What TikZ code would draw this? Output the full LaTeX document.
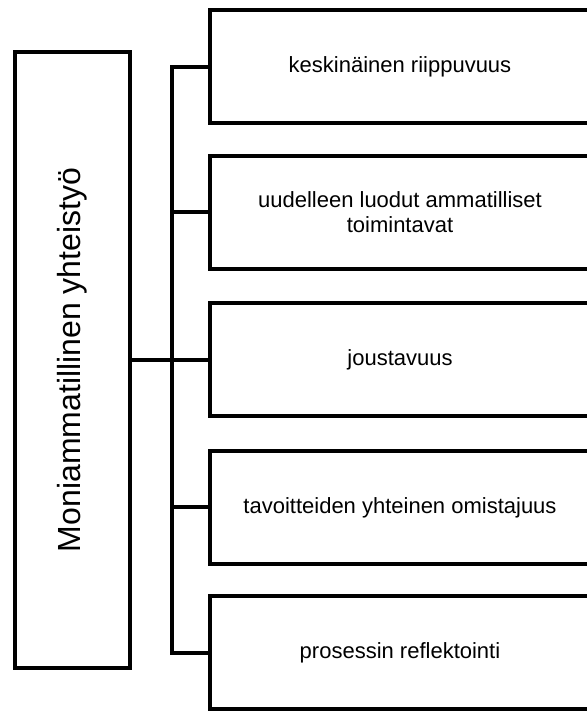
\documentclass[tikz,border=0pt]{standalone}
\usepackage{fontspec}
\setmainfont{Liberation Sans}
\begin{document}
\begin{tikzpicture}[line join=miter,
  box/.style={draw,line width=4bp,inner sep=0pt,outer sep=0pt,minimum width=380bp,minimum height=113bp,align=center,font=\fontsize{22bp}{25bp}\selectfont},
  link/.style={line width=4bp},]
%%
\clip (0bp,0bp) rectangle (587bp,713bp);
\node (node_0) at (72.5bp,353.0bp) [draw,line width=4bp,inner sep=0pt,outer sep=0pt,minimum width=115bp,minimum height=616bp,font=\fontsize{32bp}{38bp}\selectfont] {\rotatebox{90}{Moniammatillinen yhteistyö}};
  \node (node_1) at (400.0bp,646.0bp) [box] {keskinäinen riippuvuus};
  \node (node_2) at (400.0bp,500.5bp) [box] {uudelleen luodut ammatilliset\\toimintavat};
  \node (node_3) at (400.0bp,353.0bp) [box] {joustavuus};
  \node (node_4) at (400.0bp,205.5bp) [box] {tavoitteiden yhteinen omistajuus};
  \node (node_5) at (400.0bp,60.0bp) [box] {prosessin reflektointi};
  \draw [link] (node_1.west) -- ++(-38bp,0bp) |- (node_5.west);
  \draw [link] (node_2.west) -- ++(-38bp,0bp);
  \draw [link] (node_4.west) -- ++(-38bp,0bp);
  \draw [link] (node_0.east) -- (node_3.west);
%
\end{tikzpicture}
\end{document}
